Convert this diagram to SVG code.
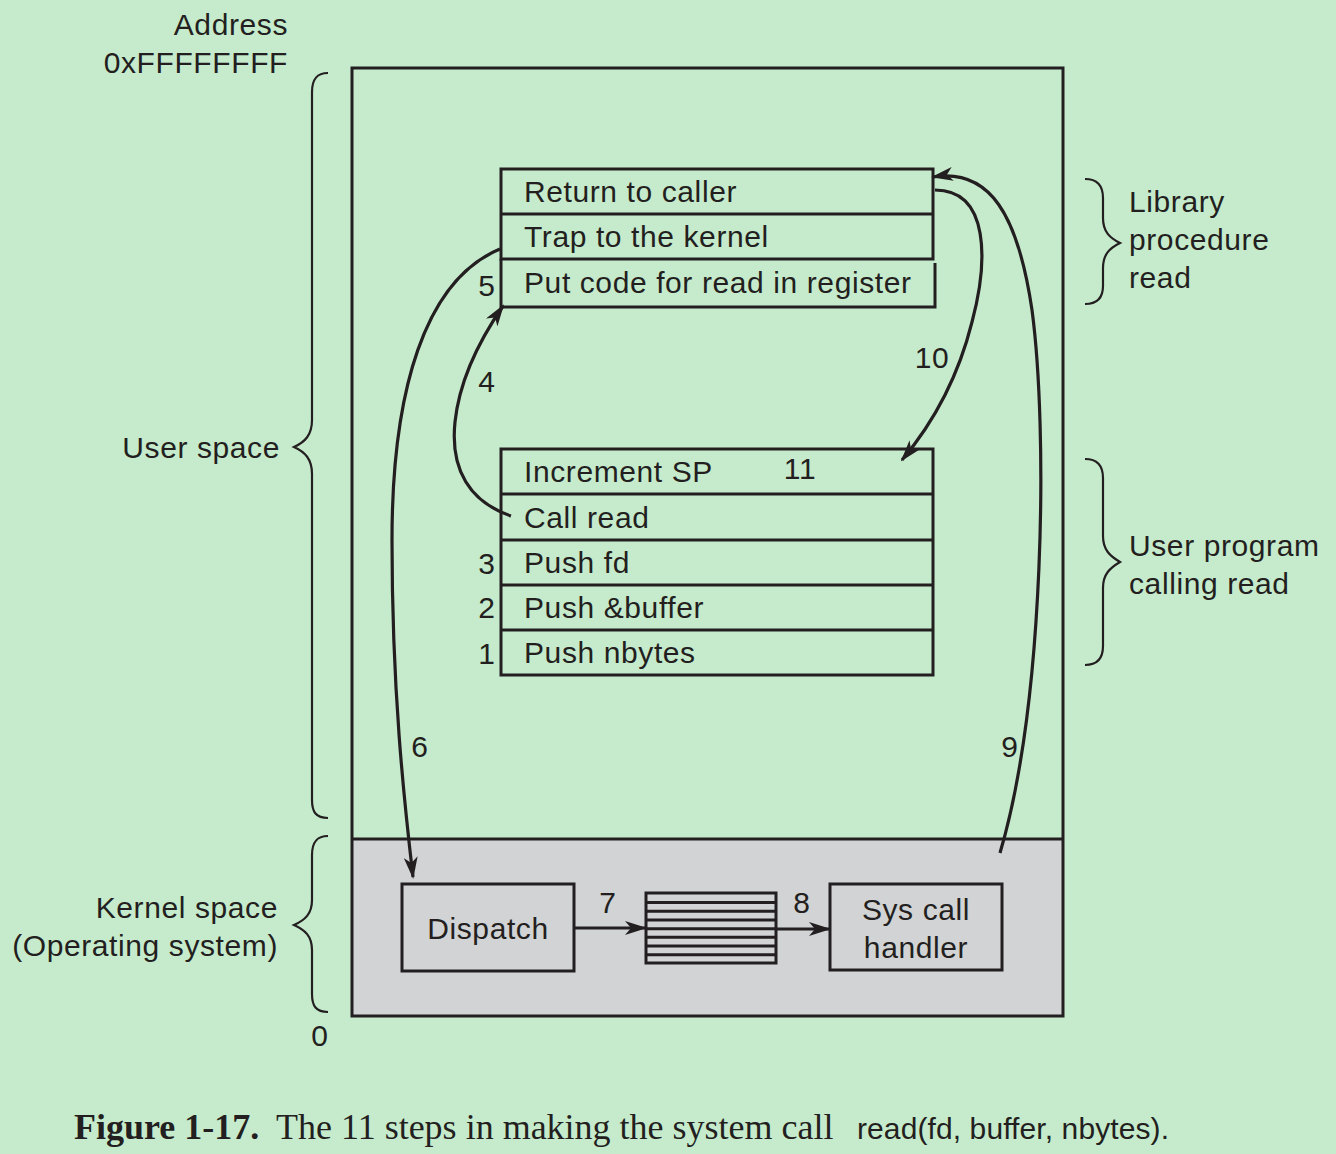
<svg xmlns="http://www.w3.org/2000/svg" width="1336" height="1154" viewBox="0 0 1336 1154">
<defs>
<style>
.t{font-family:"Liberation Sans",Arial,Helvetica,sans-serif;font-size:30px;letter-spacing:0.6px;fill:#231f20}
.m{text-anchor:middle}
.e{text-anchor:end}
.bx{fill:none;stroke:#231f20;stroke-width:3}
.br{fill:none;stroke:#231f20;stroke-width:2.2}
.ar{fill:none;stroke:#231f20;stroke-width:3.2;marker-end:url(#ah)}
.cap{font-family:"Liberation Serif","Times New Roman",serif;font-size:36px;fill:#231f20}
</style>
<marker id="ah" markerUnits="userSpaceOnUse" markerWidth="22" markerHeight="14" refX="20" refY="7" orient="auto">
<path d="M0,0 L22,7 L0,14 L6,7 z" fill="#231f20"/>
</marker>
</defs>
<rect width="1336" height="1154" fill="#c6ebcc"/>

<g id="memory">
<rect x="352" y="839" width="711" height="177" fill="#d1d3d4"/>
<rect x="352" y="68" width="711" height="948" class="bx"/>
<line x1="352" y1="839" x2="1063" y2="839" class="bx"/>
</g>

<g id="library-procedure">
<rect x="501" y="169" width="432" height="90" class="bx"/>
<line x1="501" y1="214" x2="933" y2="214" class="bx"/>
<path d="M501,259 L501,307 L935,307 L935,263" class="bx"/>
<text class="t" x="524" y="202">Return to caller</text>
<text class="t" x="524" y="247">Trap to the kernel</text>
<text class="t" x="524" y="293">Put code for read in register</text>
<text class="t m" x="487" y="296">5</text>
</g>

<g id="user-program">
<rect x="501" y="449" width="432" height="226" class="bx"/>
<line x1="501" y1="494" x2="933" y2="494" class="bx"/>
<line x1="501" y1="540" x2="933" y2="540" class="bx"/>
<line x1="501" y1="585" x2="933" y2="585" class="bx"/>
<line x1="501" y1="630" x2="933" y2="630" class="bx"/>
<text class="t" x="524" y="482">Increment SP</text>
<text class="t" x="524" y="528">Call read</text>
<text class="t" x="524" y="573">Push fd</text>
<text class="t" x="524" y="618">Push &amp;buffer</text>
<text class="t" x="524" y="663">Push nbytes</text>
<text class="t m" x="487" y="574">3</text>
<text class="t m" x="487" y="618">2</text>
<text class="t m" x="487" y="664">1</text>
</g>

<g id="dispatch">
<rect x="402" y="884" width="172" height="87" class="bx"/>
<text class="t m" x="488" y="939">Dispatch</text>
</g>

<g id="table">
<rect x="646" y="893" width="130" height="70" class="bx"/>
<g stroke="#231f20" stroke-width="3">
<line x1="646" y1="902.5" x2="776" y2="902.5"/>
<line x1="646" y1="911.3" x2="776" y2="911.3"/>
<line x1="646" y1="920" x2="776" y2="920"/>
<line x1="646" y1="928.7" x2="776" y2="928.7"/>
<line x1="646" y1="937.3" x2="776" y2="937.3"/>
<line x1="646" y1="946" x2="776" y2="946"/>
<line x1="646" y1="954.7" x2="776" y2="954.7"/>
</g>
</g>

<g id="syscall-handler">
<rect x="830" y="884" width="172" height="86" class="bx"/>
<text class="t m" x="916" y="920">Sys call</text>
<text class="t m" x="916" y="958">handler</text>
</g>

<g id="connectors">
<path class="ar" d="M511,516 C470,502 450,470 455,422 C460,375 483,335 503,306"/>
<path class="ar" d="M500,249 C425,280 392,390 392,540 C392,690 404,800 413,877"/>
<path class="ar" d="M574,928 L645,928"/>
<path class="ar" d="M776,929 L829,929"/>
<path class="ar" d="M1000,853 C1045,700 1048,430 1032,310 C1018,215 990,168 933,177"/>
<path class="ar" d="M935,190 C990,190 988,262 972,322 C958,378 934,422 902,460"/>
<text class="t m" x="487" y="392">4</text>
<text class="t m" x="420" y="757">6</text>
<text class="t m" x="608" y="913">7</text>
<text class="t m" x="802" y="913">8</text>
<text class="t m" x="1010" y="757">9</text>
<text class="t m" x="932" y="368">10</text>
<text class="t m" x="800" y="479">11</text>
</g>

<g id="labels">
<text class="t e" x="288" y="35">Address</text>
<text class="t e" x="288" y="73">0xFFFFFFFF</text>
<text class="t e" x="280" y="458">User space</text>
<text class="t e" x="278" y="918">Kernel space</text>
<text class="t e" x="278" y="956">(Operating system)</text>
<text class="t m" x="320" y="1046">0</text>
<text class="t" x="1129" y="212">Library</text>
<text class="t" x="1129" y="250">procedure</text>
<text class="t" x="1129" y="288">read</text>
<text class="t" x="1129" y="556">User program</text>
<text class="t" x="1129" y="594">calling read</text>
<path class="br" d="M328,73 C316,73 312,80 312,92 L312,420 C312,435 305,442 294,447 C305,452 312,459 312,474 L312,800 C312,812 316,818 328,818"/>
<path class="br" d="M328,836 C316,836 312,843 312,855 L312,900 C312,914 305,920 294,925 C305,930 312,936 312,950 L312,994 C312,1006 316,1012 328,1012"/>
<path class="br" d="M1085,179 C1097,179 1103,186 1103,198 L1103,218 C1103,232 1110,238 1120,243 C1110,248 1103,254 1103,268 L1103,286 C1103,298 1097,304 1085,304"/>
<path class="br" d="M1085,459 C1097,459 1103,466 1103,478 L1103,536 C1103,550 1110,556 1120,562 C1110,568 1103,574 1103,588 L1103,646 C1103,658 1097,665 1085,665"/>
</g>

<g id="caption">
<text class="cap" x="74" y="1139" font-weight="bold">Figure 1-17.</text>
<text class="cap" x="276" y="1139">The 11 steps in making the system call</text>
<text class="t" x="857" y="1139" style="letter-spacing:0.1px">read(fd, buffer, nbytes).</text>
</g>
</svg>
